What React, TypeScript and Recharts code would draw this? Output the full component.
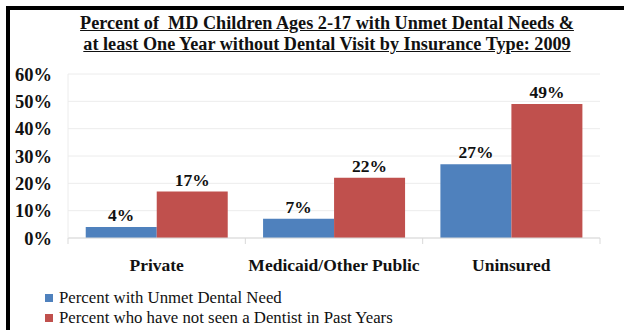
import React from 'react';
import { BarChart, Bar, XAxis, YAxis, CartesianGrid, LabelList } from 'recharts';

const categories = ['Private', 'Medicaid/Other Public', 'Uninsured'];
const unmetNeed = [0.04, 0.07, 0.27];
const noDentist = [0.17, 0.22, 0.49];
const yTicks = [0, 0.1, 0.2, 0.3, 0.4, 0.5, 0.6];
const seriesNames = ['Percent with Unmet Dental Need', 'Percent who have not seen a Dentist in Past Years'];
const colors = ['#4F81BD', '#C0504D'];

const data = categories.map((c, i) => ({ name: c, unmet: unmetNeed[i], noVisit: noDentist[i] }));

const FONT = '"Liberation Serif", "Times New Roman", serif';
const pct = (v: number) => `${Math.round(v * 100)}%`;
const BOLD = { fontFamily: FONT, fontWeight: 'bold', fontSize: 17.5, fill: '#111' } as const;
const YBOLD = { fontFamily: FONT, fontWeight: 'bold', fontSize: 18.5, fill: '#111' } as const;

const CatTick = (props: any) => {
  const { x, y, payload, index } = props;
  const off = payload.offset || 0;
  return (
    <g>
      <line x1={x - off} y1={y} x2={x - off} y2={y + 6} stroke="#d9d9d9" />
      {index === categories.length - 1 && (
        <line x1={x + off} y1={y} x2={x + off} y2={y + 6} stroke="#d9d9d9" />
      )}
      <text x={x} y={y + 33} textAnchor="middle" fontFamily={FONT} fontWeight="bold" fontSize={17.5} fill="#111">
        {payload.value}
      </text>
    </g>
  );
};

export default function App() {
  return (
    <div style={{ position: 'absolute', left: 0, top: 0, width: 624, height: 330, background: '#fff', overflow: 'hidden' }}>
      <div style={{ position: 'absolute', left: 6, top: 6, width: 640, height: 340, borderLeft: '4px solid #000', borderTop: '4px solid #000' }} />
      <div
        style={{
          position: 'absolute', left: 27, width: 600, top: 13, textAlign: 'center',
          fontFamily: FONT, fontWeight: 'bold', fontSize: 18.2, lineHeight: '21px', textDecoration: 'underline', color: '#111',
        }}
      >
        Percent of&nbsp; MD Children Ages 2-17 with Unmet Dental Needs &amp;<br />
        at least One Year without Dental Visit by Insurance Type: 2009
      </div>
      <div style={{ position: 'absolute', left: 0, top: 0 }}>
        <BarChart
          width={624}
          height={330}
          data={data}
          margin={{ top: 74, right: 24, bottom: 62, left: 0 }}
          barCategoryGap="10%"
          barGap={0}
        >
          <CartesianGrid stroke="#ececec" vertical={false} />
          <XAxis
            dataKey="name"
            height={30}
            axisLine={{ stroke: '#d9d9d9' }}
            tickLine={false}
            tickSize={0}
            tickMargin={0}
            interval={0}
            tick={<CatTick />}
          />
          <YAxis
            width={68}
            domain={[0, 0.6]}
            ticks={yTicks}
            interval={0}
            tickFormatter={pct}
            axisLine={{ stroke: '#ececec' }}
            tickLine={false}
            tickSize={0}
            tickMargin={16}
            tick={YBOLD}
          />
          <Bar dataKey="unmet" fill={colors[0]} isAnimationActive={false}>
            <LabelList dataKey="unmet" position="top" offset={6} formatter={pct as any} style={BOLD} />
          </Bar>
          <Bar dataKey="noVisit" fill={colors[1]} isAnimationActive={false}>
            <LabelList dataKey="noVisit" position="top" offset={6} formatter={pct as any} style={BOLD} />
          </Bar>
        </BarChart>
      </div>
      <div style={{ position: 'absolute', left: 45, top: 288, fontFamily: FONT, fontSize: 16.8, color: '#111', lineHeight: '20px' }}>
        {seriesNames.map((n, i) => (
          <div key={n} style={{ display: 'flex', alignItems: 'center' }}>
            <span style={{ display: 'inline-block', width: 8, height: 8, background: colors[i], marginRight: 6 }} />
            {n}
          </div>
        ))}
      </div>
    </div>
  );
}
